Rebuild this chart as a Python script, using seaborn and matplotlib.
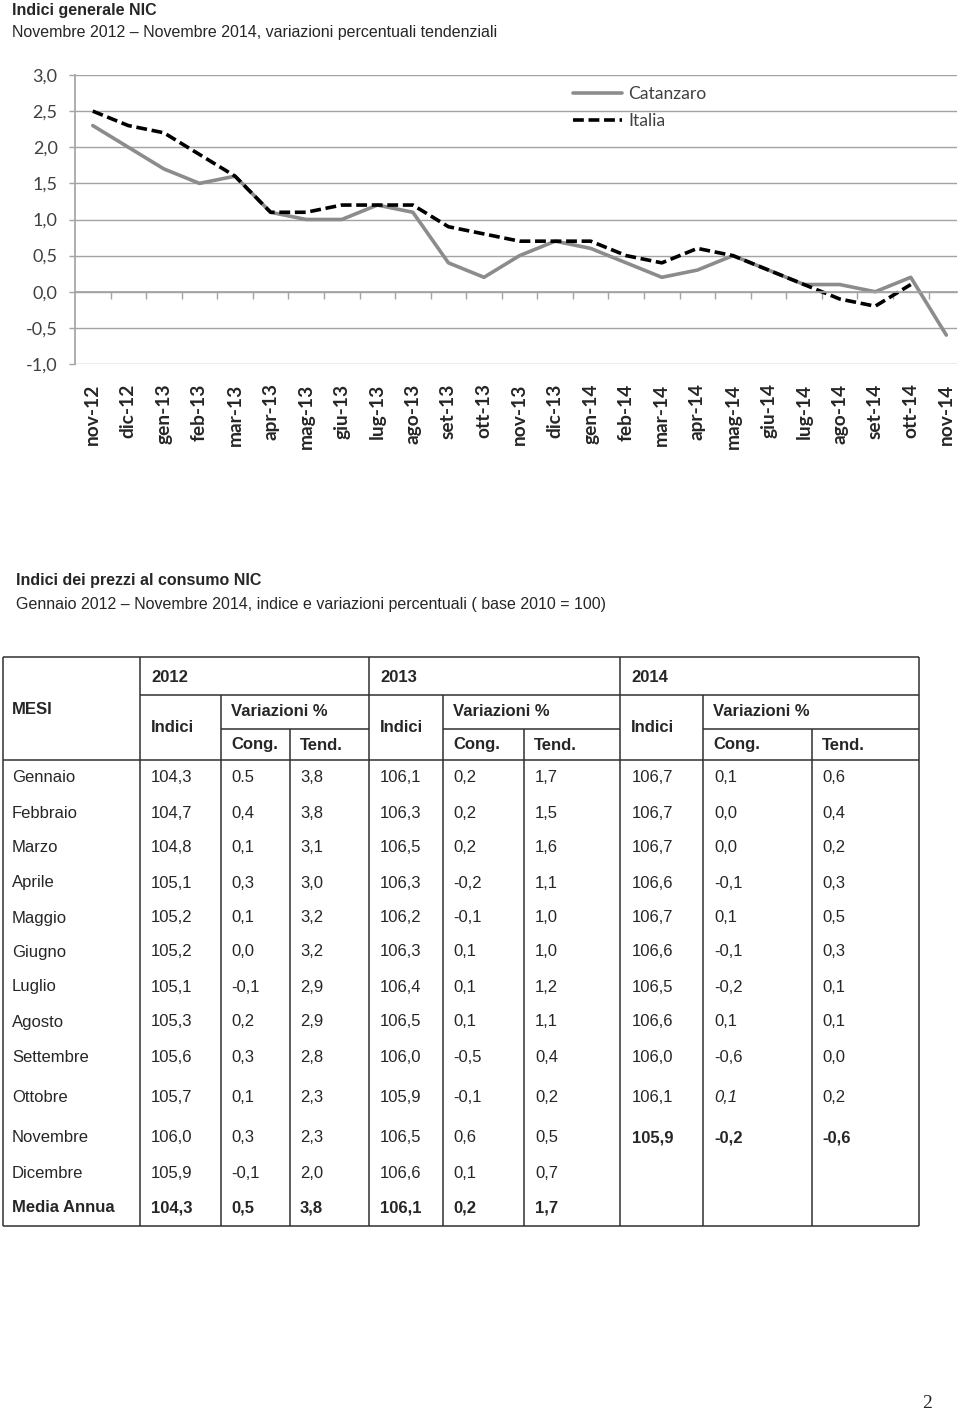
import matplotlib
matplotlib.use('Agg')
import matplotlib.pyplot as plt
from matplotlib import font_manager
from matplotlib.ticker import FixedLocator, FuncFormatter
import numpy as np
import pandas as pd
import seaborn as sns

# --- dati grafico: variazioni tendenziali NIC ---
mesi_grafico = ['nov-12', 'dic-12', 'gen-13', 'feb-13', 'mar-13', 'apr-13', 'mag-13',
                'giu-13', 'lug-13', 'ago-13', 'set-13', 'ott-13', 'nov-13', 'dic-13',
                'gen-14', 'feb-14', 'mar-14', 'apr-14', 'mag-14', 'giu-14', 'lug-14',
                'ago-14', 'set-14', 'ott-14', 'nov-14']
catanzaro = [2.3, 2.0, 1.7, 1.5, 1.6, 1.1, 1.0, 1.0, 1.2, 1.1, 0.4, 0.2, 0.5, 0.7,
             0.6, 0.4, 0.2, 0.3, 0.5, 0.3, 0.1, 0.1, 0.0, 0.2, -0.6]
# Italia si ferma a ott-14
italia = [2.5, 2.3, 2.2, 1.9, 1.6, 1.1, 1.1, 1.2, 1.2, 1.2, 0.9, 0.8, 0.7, 0.7,
          0.7, 0.5, 0.4, 0.6, 0.5, 0.3, 0.1, -0.1, -0.2, 0.1]

# --- dati tabella ---
anni = ['2012', '2013', '2014']
mesi = ['Gennaio', 'Febbraio', 'Marzo', 'Aprile', 'Maggio', 'Giugno', 'Luglio',
        'Agosto', 'Settembre', 'Ottobre', 'Novembre', 'Dicembre', 'Media Annua']
indici_2012 = [104.3, 104.7, 104.8, 105.1, 105.2, 105.2, 105.1, 105.3, 105.6, 105.7, 106.0, 105.9, 104.3]
cong_2012 = [0.5, 0.4, 0.1, 0.3, 0.1, 0.0, -0.1, 0.2, 0.3, 0.1, 0.3, -0.1, 0.5]
tend_2012 = [3.8, 3.8, 3.1, 3.0, 3.2, 3.2, 2.9, 2.9, 2.8, 2.3, 2.3, 2.0, 3.8]
indici_2013 = [106.1, 106.3, 106.5, 106.3, 106.2, 106.3, 106.4, 106.5, 106.0, 105.9, 106.5, 106.6, 106.1]
cong_2013 = [0.2, 0.2, 0.2, -0.2, -0.1, 0.1, 0.1, 0.1, -0.5, -0.1, 0.6, 0.1, 0.2]
tend_2013 = [1.7, 1.5, 1.6, 1.1, 1.0, 1.0, 1.2, 1.1, 0.4, 0.2, 0.5, 0.7, 1.7]
indici_2014 = [106.7, 106.7, 106.7, 106.6, 106.7, 106.6, 106.5, 106.6, 106.0, 106.1, 105.9, None, None]
cong_2014 = [0.1, 0.0, 0.0, -0.1, 0.1, -0.1, -0.2, 0.1, -0.6, 0.1, -0.2, None, None]
tend_2014 = [0.6, 0.4, 0.2, 0.3, 0.5, 0.3, 0.1, 0.1, 0.0, 0.2, -0.6, None, None]

sns.set_theme(style='white')
installed = {f.name for f in font_manager.fontManager.ttflist}
narrow = 'Liberation Sans Narrow' if 'Liberation Sans Narrow' in installed else 'Liberation Sans'
fs_tab = 14 if narrow == 'Liberation Sans Narrow' else 12
plt.rcParams['font.family'] = [narrow, 'DejaVu Sans']

fig = plt.figure(figsize=(9.6, 14.2), dpi=100)
W, H = 960, 1420

# overlay per testi e tabella, in pixel
axt = fig.add_axes([0, 0, 1, 1])
axt.set_xlim(0, W)
axt.set_ylim(H, 0)
axt.axis('off')

# --- grafico ---
ax = fig.add_axes([75 / W, 1 - 364 / H, (957 - 75) / W, (364 - 75) / H])
df = pd.DataFrame({
    'mese': mesi_grafico + mesi_grafico[:len(italia)],
    'valore': catanzaro + italia,
    'serie': ['Catanzaro'] * len(catanzaro) + ['Italia'] * len(italia),
})
sns.lineplot(data=df, x='mese', y='valore', hue='serie', style='serie',
             palette={'Catanzaro': '#8c8c8c', 'Italia': '#000000'},
             dashes={'Catanzaro': '', 'Italia': (3, 1.3)},
             sort=False, linewidth=2.6, ax=ax)

grid_c = '#a3a3a3'
ax.set_ylim(-1, 3)
ax.set_xlim(-0.5, len(mesi_grafico) - 0.7)
ax.set_yticks(np.arange(-1, 3.01, 0.5))
ax.yaxis.set_major_formatter(FuncFormatter(lambda v, p: f'{v:.1f}'.replace('.', ',')))
ax.grid(axis='y', color=grid_c, linewidth=1.0)
ax.set_xlabel('')
ax.set_ylabel('')
for s in ['top', 'right']:
    ax.spines[s].set_visible(False)
ax.spines['left'].set_color(grid_c)
ax.spines['bottom'].set_color(grid_c)
ax.spines['bottom'].set_position(('data', 0))
ax.xaxis.set_minor_locator(FixedLocator(np.arange(len(mesi_grafico) - 1) + 0.5))
ax.tick_params(axis='x', which='major', length=0, pad=66, labelrotation=90)
ax.tick_params(axis='x', which='minor', bottom=True, direction='out', length=5, width=1.0, color=grid_c)
ax.tick_params(axis='y', left=True, direction='out', length=4.5, width=1.0, color=grid_c, pad=8,
               labelcolor='#404040')
for lab in ax.get_xticklabels():
    lab.set_fontfamily(['Lato', 'DejaVu Sans'])
    lab.set_fontweight('bold')
    lab.set_fontsize(13.8)
for lab in ax.get_yticklabels():
    lab.set_fontfamily(['Lato', 'DejaVu Sans'])
    lab.set_fontsize(13)

handles, labels = ax.get_legend_handles_labels()
leg = ax.legend(handles, labels, loc='upper left', bbox_to_anchor=(0.565, 0.962),
                frameon=False, borderaxespad=0, borderpad=0, handlelength=2.8,
                handletextpad=0.35, labelspacing=0.62,
                prop={'family': ['Lato', 'DejaVu Sans'], 'size': 12.6})
for t in leg.get_texts():
    t.set_color('#404040')
for h in leg.get_lines():
    h.set_linewidth(2.6)

# --- titoli ---
axt.text(12, 10, 'Indici generale NIC', fontsize=11.5, fontweight='bold', va='center', ha='left')
axt.text(12, 32, 'Novembre 2012 \u2013 Novembre 2014, variazioni percentuali tendenziali',
         fontsize=11.5, va='center', ha='left')
axt.text(16, 581, 'Indici dei prezzi al consumo NIC', fontsize=11.5, fontweight='bold', va='center', ha='left')
axt.text(16, 604, 'Gennaio 2012 \u2013 Novembre 2014, indice e variazioni percentuali ( base 2010 = 100)',
         fontsize=11.5, va='center', ha='left')

# --- tabella ---
lc = '#303030'
lw = 1.1
x_left, x_right = 3, 919
y_top, y_anni, y_var, y_head, y_bot = 657, 695, 729, 760, 1226
x_anno = [140, 369, 620]
x_cong = [221, 443, 703]
x_tend = [290, 524, 812]

axt.hlines([y_top, y_head, y_bot], x_left, x_right, color=lc, lw=lw)
axt.hlines(y_anni, x_anno[0], x_right, color=lc, lw=lw)
axt.hlines([y_var] * 3, x_cong, x_anno[1:] + [x_right], color=lc, lw=lw)
axt.vlines([x_left] + x_anno + [x_right], y_top, y_bot, color=lc, lw=lw)
axt.vlines(x_cong, y_anni, y_bot, color=lc, lw=lw)
axt.vlines(x_tend, y_var, y_bot, color=lc, lw=lw)

hd = dict(fontsize=fs_tab, fontweight='bold', va='center', ha='left')
axt.text(12, 710, 'MESI', **hd)
for anno, xa, xc, xt in zip(anni, x_anno, x_cong, x_tend):
    axt.text(xa + 11, 677, anno, **hd)
    axt.text(xa + 11, 727, 'Indici', **hd)
    axt.text(xc + 10, 712, 'Variazioni %', **hd)
    axt.text(xc + 10, 745, 'Cong.', **hd)
    axt.text(xt + 10, 745, 'Tend.', **hd)

righe_y = [778, 813, 848, 883, 918, 952, 987, 1022, 1057, 1098, 1138, 1173, 1208]
col_x = [12, 151, 231, 300, 380, 453, 535, 632, 714, 822]
colonne = [indici_2012, cong_2012, tend_2012, indici_2013, cong_2013, tend_2013,
           indici_2014, cong_2014, tend_2014]


def fmt(v):
    return f'{v:.1f}'.replace('.', ',')


for i, (mese, y) in enumerate(zip(mesi, righe_y)):
    media = mese == 'Media Annua'
    axt.text(col_x[0], y, mese, fontsize=fs_tab, va='center', ha='left',
             fontweight='bold' if media else 'normal')
    for j, col in enumerate(colonne):
        v = col[i]
        if v is None:
            continue
        s = fmt(v)
        if i == 0 and j == 1:
            s = s.replace(',', '.')  # come nell'originale
        bold = media or (mese == 'Novembre' and j >= 6)
        italic = mese == 'Ottobre' and j == 7
        axt.text(col_x[j + 1], y, s, fontsize=fs_tab, va='center', ha='left',
                 fontweight='bold' if bold else 'normal',
                 fontstyle='italic' if italic else 'normal')

axt.text(927, 1403, '2', fontsize=14, va='center', ha='center',
         fontfamily=['Liberation Serif', 'DejaVu Serif'])

fig.savefig('out.png', dpi=100, facecolor='white')
